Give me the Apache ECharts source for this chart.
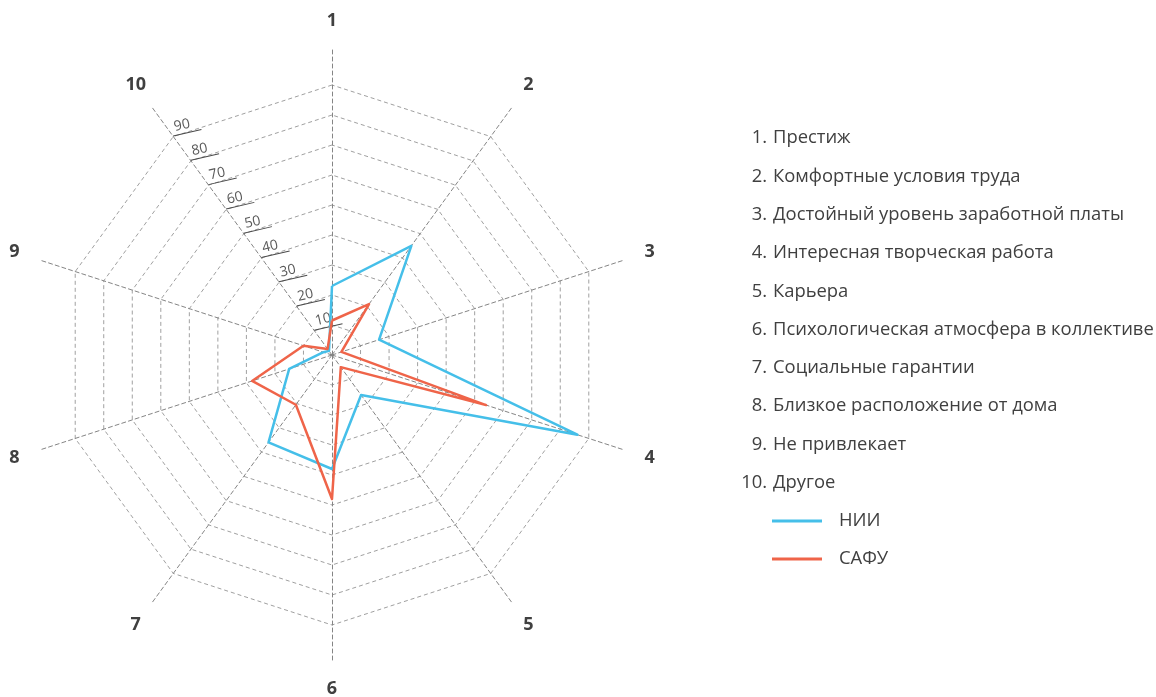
<!DOCTYPE html>
<html>
<head>
<meta charset="utf-8">
<script src="https://cdn.jsdelivr.net/npm/echarts@6/dist/echarts.min.js"></script>
<style>
  html, body { margin: 0; padding: 0; background: #ffffff; }
  #chart { width: 1156px; height: 697px; }
</style>
</head>
<body>
<div id="chart"></div>
<script>
// Factors of job attractiveness, in survey order
const factorNames = [
  'Престиж',
  'Комфортные условия труда',
  'Достойный уровень заработной платы',
  'Интересная творческая работа',
  'Карьера',
  'Психологическая атмосфера в коллективе',
  'Социальные гарантии',
  'Близкое расположение от дома',
  'Не привлекает',
  'Другое'
];
const axisNumbers = ['1', '2', '3', '4', '5', '6', '7', '8', '9', '10'];
const seriesNames = ['НИИ', 'САФУ'];
const niiValues  = [23, 45, 16.5, 86, 16.5, 38, 36, 15, 3, 1.7];
const safuValues = [11.5, 21, 3.3, 54, 5, 48, 20.5, 28, 10, 2.5];
const scaleMax = 90;
const scaleSteps = 9;
const seriesColors = ['#45bfe9', '#ef6449'];

const textColor = '#404040';
const fontFamily = '"Open Sans", "DejaVu Sans", sans-serif';

// Radar indicators run counter-clockwise; keep the first on top and walk the rest backwards
const order = [0, 9, 8, 7, 6, 5, 4, 3, 2, 1];
const scaleAxisIndex = 9; // axis "10" carries the value labels

const ringIndicators = order.map(i => {
  const ind = { name: axisNumbers[i], min: 0, max: scaleMax };
  if (i === scaleAxisIndex) {
    ind.axisLabel = {
      show: true,
      showMinLabel: true,
      showMaxLabel: true,
      margin: 0,
      rotate: 13,
      align: 'left',
      verticalAlign: 'bottom',
      formatter: v => (Number(v) === 0 ? '' : '{t|' + v + '}\n{u|}'),
      rich: {
        t: { fontSize: 14, color: '#595959', fontFamily: fontFamily, padding: [0, 0, 0, 3], lineHeight: 16 },
        u: { width: 29, height: 1, backgroundColor: '#4a4a4a' }
      }
    };
  }
  return ind;
});
const spokeIndicators = order.map(i => ({ name: axisNumbers[i], min: 0, max: scaleMax }));

// Numbered list of factor names: numbers right-aligned in one column, names in the next
const listStyle = { fontSize: 18.4, color: textColor, fontFamily: fontFamily, fontWeight: 'normal', lineHeight: 38.3 };
const listNumbers = factorNames.map((n, i) => (i + 1) + '.').join('\n');
const listNames = factorNames.join('\n');

const chart = echarts.init(document.getElementById('chart'), null, { renderer: 'canvas' });
chart.setOption({
  backgroundColor: '#ffffff',
  animation: false,
  title: [
    { left: 767, top: 119, padding: 0, textAlign: 'right', text: listNumbers, textStyle: listStyle },
    { left: 773, top: 119, padding: 0, textAlign: 'left', text: listNames, textStyle: listStyle }
  ],
  legend: {
    data: seriesNames,
    orient: 'vertical',
    left: 772,
    top: 511,
    padding: 0,
    itemGap: 18,
    itemWidth: 50,
    itemHeight: 3,
    icon: 'rect',
    textStyle: { fontSize: 18.4, color: textColor, fontFamily: fontFamily, lineHeight: 20, padding: [0, 0, 0, 12] }
  },
  radar: [
    {
      // value rings
      center: [332, 355],
      radius: 270,
      shape: 'polygon',
      splitNumber: scaleSteps,
      indicator: ringIndicators,
      axisName: { show: false },
      axisLine: { show: false },
      axisTick: { show: false },
      splitArea: { show: false },
      splitLine: { lineStyle: { color: '#a0a0a0', width: 1, type: [4, 3] } }
    },
    {
      // spokes and their numbers, reaching past the outer ring
      center: [332, 355],
      radius: 308,
      shape: 'polygon',
      splitNumber: 1,
      indicator: spokeIndicators,
      nameGap: 26,
      axisName: {
        color: textColor, fontSize: 18, fontWeight: 'bold', fontFamily: fontFamily,
        align: 'center', verticalAlign: 'middle'
      },
      axisLine: { lineStyle: { color: '#858585', width: 1, type: [4, 3] } },
      axisTick: { show: false },
      axisLabel: { show: false },
      splitArea: { show: false },
      splitLine: { show: false }
    }
  ],
  series: [niiValues, safuValues].map((vals, k) => ({
    type: 'radar',
    radarIndex: 0,
    name: seriesNames[k],
    symbol: 'none',
    color: seriesColors[k],
    lineStyle: { color: seriesColors[k], width: 2.5 },
    itemStyle: { color: seriesColors[k] },
    z: k === 0 ? 3 : 4,
    data: [{ name: seriesNames[k], value: order.map(i => vals[i]) }]
  }))
});
</script>
</body>
</html>
